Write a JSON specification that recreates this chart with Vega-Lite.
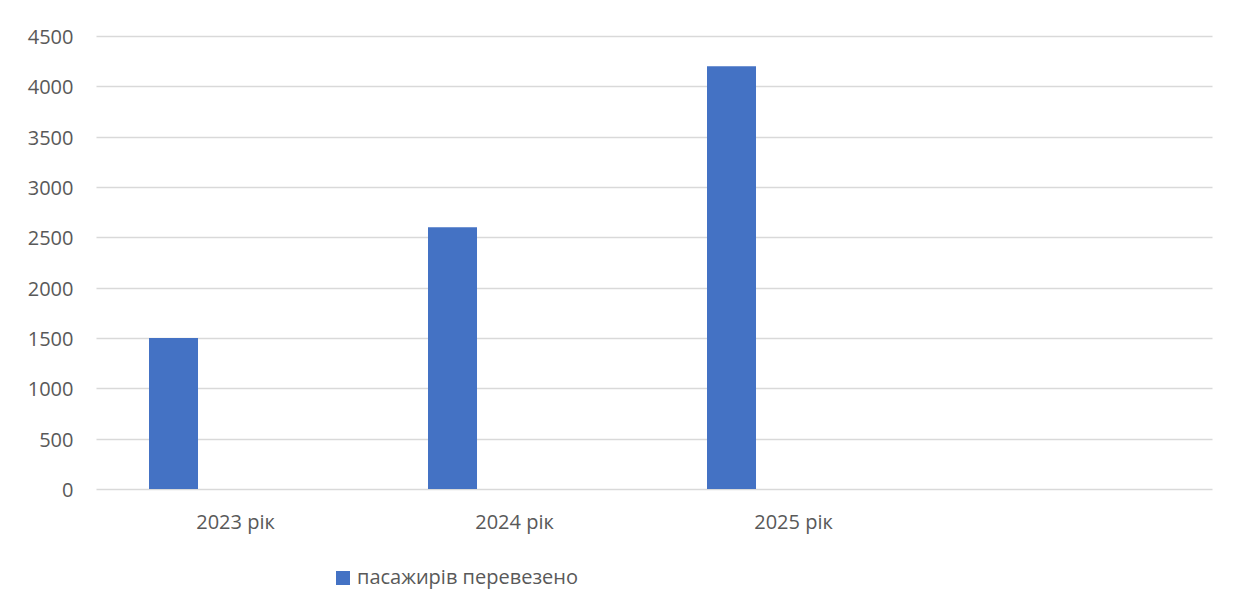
{
  "$schema": "https://vega.github.io/schema/vega-lite/v6.json",
  "autosize": {"type": "none"},
  "padding": {"left": 96, "top": 36, "right": 30, "bottom": 117},
  "width": 1116,
  "height": 453,
  "background": "white",
  "data": {
    "values": [
      {"year": "2023 рік", "series": "пасажирів перевезено", "value": 1500},
      {"year": "2024 рік", "series": "пасажирів перевезено", "value": 2600},
      {"year": "2025 рік", "series": "пасажирів перевезено", "value": 4200}
    ]
  },
  "mark": {"type": "bar", "width": 49},
  "encoding": {
    "x": {
      "field": "year",
      "type": "nominal",
      "sort": null,
      "scale": {"domain": ["2023 рік", "2024 рік", "2025 рік", " "], "paddingInner": 0, "paddingOuter": 0},
      "axis": {
        "title": null,
        "domain": false,
        "ticks": false,
        "grid": false,
        "labelAngle": 0,
        "labelFont": "Open Sans",
        "labelFontSize": 20,
        "labelColor": "#595959",
        "labelPadding": 23
      }
    },
    "xOffset": {
      "field": "series",
      "type": "nominal",
      "scale": {"paddingInner": 0, "paddingOuter": 1, "align": 0.1667}
    },
    "y": {
      "field": "value",
      "type": "quantitative",
      "scale": {"domain": [0, 4500], "nice": false},
      "axis": {
        "title": null,
        "values": [0, 500, 1000, 1500, 2000, 2500, 3000, 3500, 4000, 4500],
        "format": "d",
        "domain": false,
        "ticks": false,
        "grid": true,
        "gridColor": "#D9D9D9",
        "gridWidth": 1.5,
        "labelFont": "Open Sans",
        "labelFontSize": 20,
        "labelColor": "#595959",
        "labelPadding": 23,
        "labelOffset": 1.5
      }
    },
    "color": {
      "field": "series",
      "type": "nominal",
      "scale": {"range": ["#4472C4"]},
      "legend": {
        "title": null,
        "orient": "none",
        "legendX": 237,
        "legendY": 532,
        "padding": 0,
        "symbolType": "square",
        "symbolSize": 196,
        "symbolStrokeWidth": 0,
        "symbolOpacity": 1,
        "labelFont": "Open Sans",
        "labelFontSize": 20,
        "labelColor": "#595959",
        "labelOffset": 4,
        "labelLimit": 0
      }
    }
  },
  "config": {"view": {"stroke": null}}
}
